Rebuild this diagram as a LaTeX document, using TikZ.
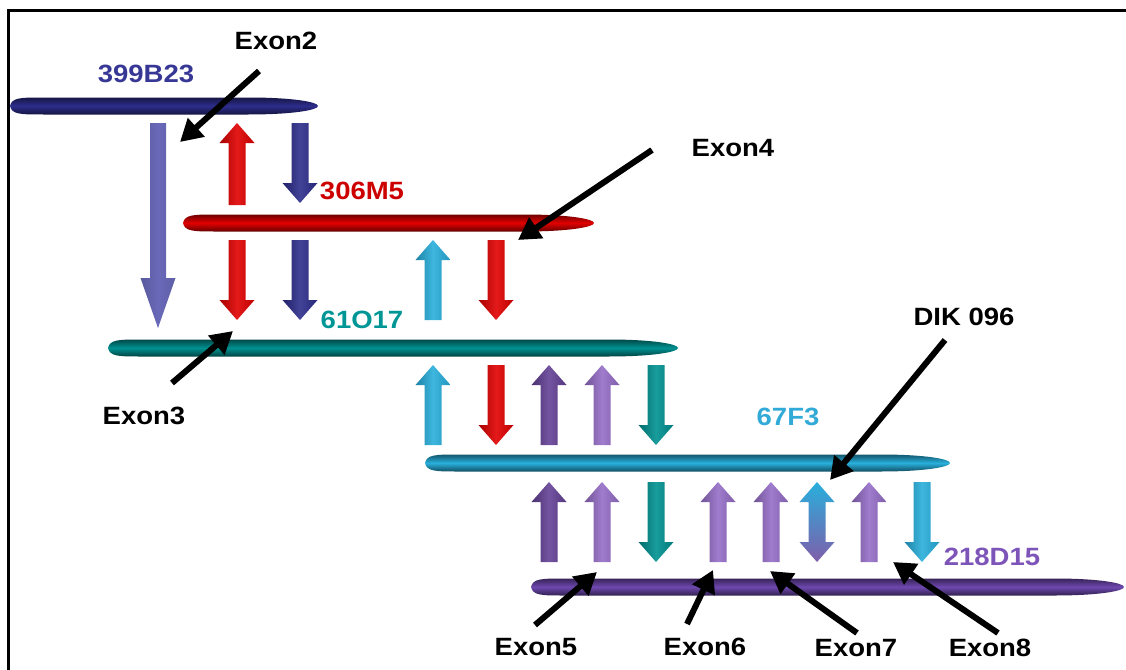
\documentclass[tikz,border=0pt]{standalone}
\usepackage{fontspec}
\setmainfont{Liberation Sans}[FakeStretch=1.1]
\usetikzlibrary{shapes.geometric, arrows.meta, positioning, calc}
\definecolor{bacNavy}{RGB}{45, 45, 140}
\definecolor{bacSlate}{RGB}{105, 105, 185}
\definecolor{bacRed}{RGB}{225, 0, 0}
\definecolor{bacTeal}{RGB}{0, 145, 145}
\definecolor{bacCyan}{RGB}{40, 175, 220}
\definecolor{bacPurple}{RGB}{110, 72, 175}
\definecolor{bacPlum}{RGB}{100, 65, 150}
\definecolor{bacLilac}{RGB}{150, 110, 200}
\definecolor{txtNavy}{RGB}{55, 55, 150}
\definecolor{txtRed}{RGB}{205, 0, 0}
\definecolor{txtTeal}{RGB}{0, 150, 150}
\definecolor{txtCyan}{RGB}{50, 170, 215}
\definecolor{txtPurple}{RGB}{125, 85, 185}

% fat vertical arrow: x, tail y, tip y, colour
\newcommand{\fatarrow}[4]{%
    \pgfmathsetmacro{\arrowbase}{#3-20*sign(#3-#2)}%
    \shade[left color=#4!75!black, right color=#4!85!black, middle color=#4!90!white]
        (#1-8.5,#2) -- (#1+8.5,#2) -- (#1+8.5,\arrowbase) -- (#1+17.5,\arrowbase)
        -- (#1,#3) -- (#1-17.5,\arrowbase) -- (#1-8.5,\arrowbase) -- cycle;
}

% clone bar: name, left x, right x, y, colour
\newcommand{\bacbar}[5]{%
    \pgfmathsetmacro{\barlen}{#3-#2}%
    \node[inner sep=0pt, minimum height=17pt, minimum width=\barlen pt] (#1) at ({(#2+#3)/2},#4) {};
    \shade[top color=#5!50!black, bottom color=#5!45!black, middle color=#5]
        (#2,#4) .. controls (#2+2,#4-8.5) and (#2+10,#4-8.5) .. (#2+35,#4-8.5)
        -- (#3-70,#4-8.5) .. controls (#3-25,#4-8.5) and (#3,#4-4) .. (#3,#4)
        .. controls (#3,#4+4) and (#3-25,#4+8.5) .. (#3-70,#4+8.5)
        -- (#2+35,#4+8.5) .. controls (#2+10,#4+8.5) and (#2+2,#4+8.5) .. (#2,#4) -- cycle;
}

\begin{document}
\begin{tikzpicture}[
    x=1pt, y=-1pt,
    font=\fontsize{25}{30}\selectfont\bfseries,
    % clone names
    bac_label/.style={
        text=#1,
        inner sep=0pt
    },
    % exon names
    exon_label/.style={
        text=black,
        inner sep=0pt
    },
    % black pointers
    pointer/.style={
        line width=6pt,
        -{Triangle[length=22pt, width=24pt]}
    }
]
    \useasboundingbox (0,0) rectangle (1126,669);
    \clip (0,0) rectangle (1126,669);
    \draw[line width=3pt] (8,700) -- (8,11) -- (1150,11);

    % --- 1. Clones ---
    \bacbar{bac_399}{10}{318}{106}{bacNavy}
    \bacbar{bac_306}{183}{594}{223}{bacRed}
    \bacbar{bac_61}{108}{678}{348}{bacTeal}
    \bacbar{bac_67}{425}{950}{463}{bacCyan}
    \bacbar{bac_218}{531}{1124}{587}{bacPurple}

    \node[bac_label=txtNavy] (lbl_399) at (146,74) {399B23};
    \node[bac_label=txtRed] (lbl_306) at (362,191) {306M5};
    \node[bac_label=txtTeal] (lbl_61) at (362,320) {61O17};
    \node[bac_label=txtCyan] (lbl_67) at (788,417) {67F3};
    \node[bac_label=txtPurple] (lbl_218) at (992,557) {218D15};

    % --- 2. Overlaps ---
    \shade[left color=bacSlate!85!black, right color=bacSlate!90!black, middle color=bacSlate]
        (150,123) -- (166,123) -- (166,278) -- (175.5,278) -- (158,328)
        -- (140.5,278) -- (150,278) -- cycle;
    \fatarrow{237}{205}{123}{bacRed}
    \fatarrow{300}{123}{203}{bacNavy}

    \fatarrow{237}{240}{320}{bacRed}
    \fatarrow{300}{240}{320}{bacNavy}
    \fatarrow{433}{320}{240}{bacCyan}
    \fatarrow{496}{240}{320}{bacRed}

    \fatarrow{433}{445}{365}{bacCyan}
    \fatarrow{496}{365}{445}{bacRed}
    \fatarrow{549}{445}{365}{bacPlum}
    \fatarrow{602}{445}{365}{bacLilac}
    \fatarrow{656}{365}{445}{bacTeal}

    \fatarrow{549}{562}{482}{bacPlum}
    \fatarrow{602}{562}{482}{bacLilac}
    \fatarrow{656}{482}{562}{bacTeal}
    \fatarrow{718}{562}{482}{bacLilac}
    \fatarrow{771}{562}{482}{bacLilac}
    \shade[top color=bacCyan, bottom color=bacLilac!85!black]
        (817,482) -- (834.5,502) -- (825.5,502) -- (825.5,542) -- (834.5,542)
        -- (817,562) -- (799.5,542) -- (808.5,542) -- (808.5,502) -- (799.5,502) -- cycle;
    \fatarrow{869}{562}{482}{bacLilac}
    \fatarrow{922}{482}{562}{bacCyan}

    % --- 3. Exons ---
    \node[exon_label] (exon_2) at (276,41) {Exon2};
    \node[exon_label] (exon_4) at (733,148) {Exon4};
    \node[exon_label] (exon_3) at (144,416) {Exon3};
    \node[exon_label] (dik_096) at (964,317) {DIK 096};
    \node[exon_label] (exon_5) at (536,647) {Exon5};
    \node[exon_label] (exon_6) at (705,647) {Exon6};
    \node[exon_label] (exon_7) at (856,648) {Exon7};
    \node[exon_label] (exon_8) at (990,648) {Exon8};

    \coordinate (tip_2) at (180,142);
    \coordinate (tip_4) at (518,240);
    \coordinate (tip_3) at (233,331);
    \coordinate (tip_dik) at (830,480);
    \coordinate (tip_5) at (597,572);
    \coordinate (tip_6) at (713,570);
    \coordinate (tip_7) at (770,571);
    \coordinate (tip_8) at (893,562);

    \draw[pointer] ([shift={(-17,30)}]exon_2.center) -- (tip_2);
    \draw[pointer] ([shift={(-81,2)}]exon_4.center) -- (tip_4);
    \draw[pointer] ([shift={(28,-33)}]exon_3.center) -- (tip_3);
    \draw[pointer] ([shift={(-19,23)}]dik_096.center) -- (tip_dik);
    \draw[pointer] ([shift={(-1,-22)}]exon_5.center) -- (tip_5);
    \draw[pointer] ([shift={(-18,-23)}]exon_6.center) -- (tip_6);
    \draw[pointer] ([shift={(1,-15)}]exon_7.center) -- (tip_7);
    \draw[pointer] ([shift={(8,-15)}]exon_8.center) -- (tip_8);

\end{tikzpicture}
\end{document}
